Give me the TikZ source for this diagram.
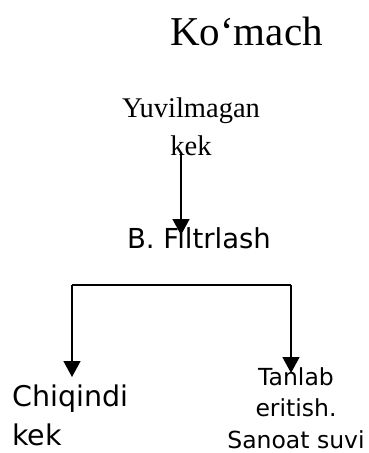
\documentclass[tikz,border=0pt]{standalone}
\usepackage{fontspec}
\setmainfont{Liberation Serif}
\setsansfont{DejaVu Sans}
\usetikzlibrary{arrows.meta}
\tikzset{
  flow/.style={line width=1.4pt,-{Triangle[width=17pt,length=16pt]}},
  lbl/.style={anchor=base,inner sep=0pt,align=center},
}
\begin{document}
\begin{tikzpicture}[x=1pt,y=-1pt]
  \useasboundingbox (0,0) rectangle (369,453);
  % headings and stages (base = last line)
  \node[lbl,font=\fontsize{41}{49}\selectfont] (title) at (246.5,45) {Ko‘mach};
  \node[lbl,font=\fontsize{28.5}{38}\selectfont] (feed) at (191,155) {Yuvilmagan\\kek};
  \node[lbl,font=\sffamily\fontsize{27.5}{33}\selectfont] (filtr) at (199,248) {B. Filtrlash};
  \node[lbl,align=left,anchor=base west,font=\sffamily\fontsize{28.5}{39}\selectfont] (waste) at (12,445) {Chiqindi\\kek};
  \node[lbl,font=\sffamily\fontsize{23.5}{31.5}\selectfont] (leach) at (296,448) {Tanlab\\eritish.\\Sanoat suvi};
  % connectors
  \coordinate (a) at (181,152);
  \coordinate (b) at (181,235);
  \draw[flow] (a) -- (b);
  \coordinate (l) at (72,285);
  \coordinate (r) at (291,285);
  \coordinate (lt) at (72,377);
  \coordinate (rt) at (291,373);
  \draw[line width=1.2pt] (l) -- (r);
  \draw[flow] (l) -- (lt);
  \draw[flow] (r) -- (rt);
\end{tikzpicture}
\end{document}
